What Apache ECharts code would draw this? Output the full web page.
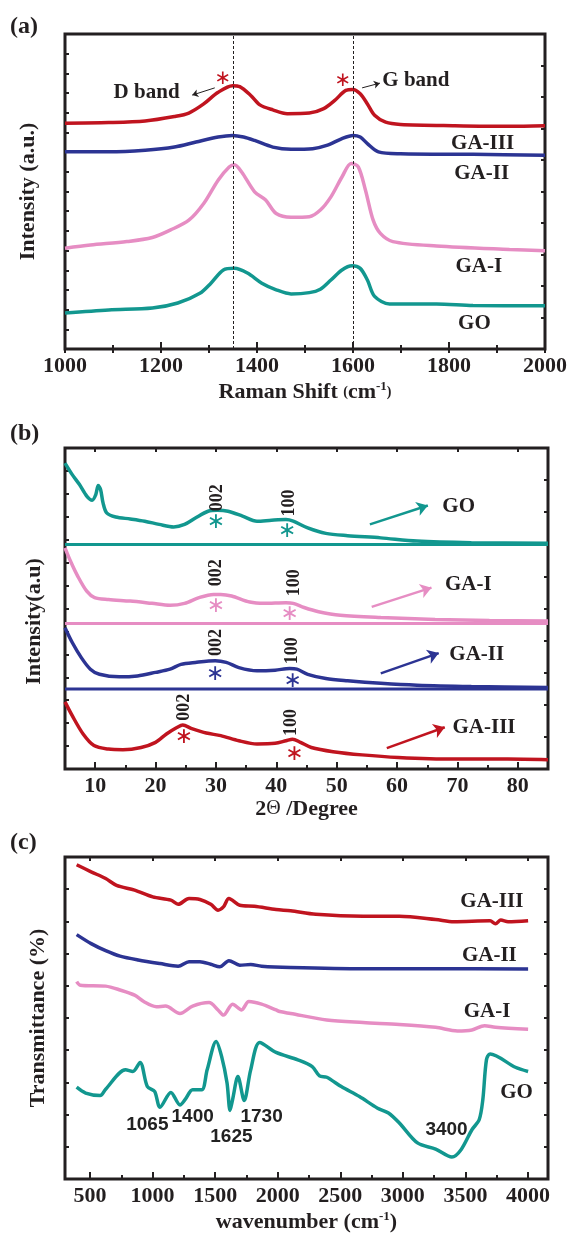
<!DOCTYPE html>
<html>
<head>
<meta charset="utf-8">
<script src="https://cdn.jsdelivr.net/npm/echarts@6/dist/echarts.min.js"></script>
<style>
  html, body { margin: 0; background: #fff; }
  #chart { width: 570px; height: 1236px; }
</style>
</head>
<body>
<div id="chart"></div>
<script>
'use strict';

// (a) Raman spectra, intensity in arbitrary units (0-100 across the frame)
const ramanGA3 = [[1000,71.7],[1091,71.9],[1167,72.4],[1228,73.8],[1258,74.9],[1289,77.8],[1319,81.5],[1349,83.6],[1364,83.3],[1387,80.5],[1406,77.5],[1433,75.9],[1463,74.7],[1509,74.9],[1539,76.3],[1562,78.9],[1585,82.1],[1600,82.4],[1615,81.0],[1630,77.8],[1645,74.2],[1668,72.0],[1699,71.3],[1812,70.9],[1926,70.7],[2000,70.9]];
const ramanGA2 = [[1000,62.6],[1091,62.6],[1167,63.1],[1228,64.1],[1273,65.7],[1319,67.3],[1349,67.8],[1372,67.3],[1395,66.2],[1433,64.1],[1471,63.4],[1516,63.6],[1547,64.7],[1577,66.8],[1600,67.8],[1615,67.3],[1630,65.2],[1653,62.6],[1699,62.0],[1850,61.8],[2000,61.5]];
const ramanGA1 = [[1000,32.0],[1053,33.0],[1129,34.1],[1182,35.4],[1220,37.8],[1258,40.9],[1289,46.2],[1319,53.6],[1342,57.8],[1353,58.5],[1368,56.2],[1395,49.9],[1418,47.3],[1440,43.0],[1471,41.8],[1509,42.0],[1532,44.1],[1554,48.3],[1577,54.6],[1596,58.9],[1611,57.8],[1626,50.4],[1642,40.9],[1657,36.7],[1683,34.1],[1774,32.7],[1926,31.6],[2000,31.2]];
const ramanGO = [[1000,11.4],[1091,12.4],[1182,13.0],[1235,14.6],[1281,17.7],[1304,20.9],[1330,25.1],[1353,25.6],[1380,24.1],[1410,20.9],[1440,18.8],[1471,17.5],[1509,17.9],[1532,19.0],[1554,21.9],[1577,25.1],[1598,26.4],[1615,25.6],[1630,21.9],[1645,16.7],[1676,14.3],[1774,14.3],[1850,13.8],[2000,13.7]];
const ramanBands = [1350, 1600];
const ramanNames = ['GA-III', 'GA-II', 'GA-I', 'GO'];
const ramanNameAt = [[1870,65.2],[1868,55.6],[1862,26.1],[1853,8.2]];
const ramanBandNames = [['D band',1170,81.4],['G band',1731,85.2]];
const ramanStars = [[1329,85.7],[1579,85.1]];
const ramanArrows = [[[1312,82.9],[1265,80.6]], [[1619,82.9],[1656,84.4]]];

// (b) XRD patterns
const xrdGO = [[5,95.3],[6.2,91.7],[7.4,88.6],[8.6,85.0],[9.5,83.7],[10.1,85.5],[10.5,88.3],[10.9,87.0],[11.3,82.9],[11.9,79.8],[13.4,78.5],[15.8,77.9],[18.2,77.2],[20.6,76.2],[23.0,75.4],[24.8,76.2],[26.6,78.2],[28.7,80.3],[30.2,80.6],[32.0,80.3],[34.4,78.8],[36.8,77.2],[39.2,77.5],[41.6,77.7],[42.8,77.2],[45.2,75.1],[48.2,73.4],[51.8,72.7],[57.3,72.0],[63.3,71.0],[72.3,70.5],[85,70.3]];
const xrdGA1 = [[5,68.9],[5.9,64.8],[7.1,60.1],[8.6,55.4],[9.9,53.4],[12.2,52.8],[15.8,52.3],[19.4,51.6],[22.4,51.0],[24.8,51.6],[27.2,53.4],[29.6,54.4],[30.8,54.4],[32.6,53.9],[35.6,52.0],[38.0,51.6],[41.6,51.8],[42.8,51.6],[44.6,50.3],[47.0,49.0],[50.6,47.9],[57.3,47.2],[66.3,46.6],[75.3,46.3],[85,46.1]];
const xrdGA2 = [[5,44.0],[6.2,39.4],[7.7,34.7],[9.2,31.1],[10.7,29.5],[14.0,28.7],[17.0,29.0],[20.0,30.1],[22.4,31.1],[24.2,32.6],[26.6,33.2],[29.9,33.7],[31.7,33.2],[33.8,31.6],[36.8,30.6],[39.8,30.8],[42.2,31.3],[43.4,31.1],[45.2,29.5],[48.2,28.2],[51.8,27.5],[57.3,26.7],[63.3,26.1],[72.3,25.7],[85,25.4]];
const xrdGA3 = [[5,20.9],[6.2,16.6],[8.0,10.9],[9.8,7.3],[12.2,6.2],[14.6,6.0],[17.6,6.7],[20.0,8.3],[21.8,10.9],[23.6,13.0],[24.5,13.7],[26.0,12.6],[28.4,11.2],[30.8,10.4],[33.8,8.8],[36.8,7.8],[39.8,8.0],[41.6,8.8],[42.7,9.3],[44.0,8.3],[45.8,6.7],[49.4,5.4],[54.2,4.4],[60.2,3.6],[69.3,3.1],[78.3,3.1],[85,2.9]];
const xrdBase = [69.9, 45.3, 24.9];
const xrdNames = ['GO', 'GA-I', 'GA-II', 'GA-III'];
const xrdNameAt = [[70.2,81.7],[71.8,57.5],[73.2,35.5],[74.4,13.0]];
const xrdD002 = [[30.2,84.5],[30.1,61.1],[30.1,39.4],[24.8,19.2]];
const xrdD100 = [[42.2,82.9],[43.0,58.0],[42.7,36.8],[42.5,14.5]];
const xrdStar002 = [[30.0,76.9],[30.0,50.6],[29.9,29.5],[24.7,9.8]];
const xrdStar100 = [[41.8,74.1],[42.2,48.2],[42.7,27.3],[43.0,4.7]];
const xrdArrows = [[[55.5,76.2],[65.1,82.1]], [[55.8,50.5],[65.7,56.5]], [[57.3,29.8],[66.9,36.1]], [[58.3,6.5],[67.9,13.0]]];
const xrdTicks = [10,20,30,40,50,60,70,80];
const xrdMinor = [15,25,35,45,55,65,75];

// (c) FTIR spectra
const irGA3 = [[393,97.6],[509,95.4],[625,93.3],[712,91.2],[856,89.7],[1001,87.6],[1146,86.6],[1204,85.3],[1291,87.1],[1378,86.8],[1465,85.3],[1523,83.5],[1566,84.5],[1610,87.1],[1697,85.0],[1813,84.7],[1987,83.7],[2103,83.3],[2305,82.2],[2682,81.6],[2972,81.6],[3262,80.6],[3407,79.9],[3697,80.2],[3740,79.3],[3783,80.4],[3841,79.9],[4001,80.2]];
const irGA2 = [[393,75.9],[509,73.1],[625,70.9],[740,69.2],[885,68.0],[1059,66.9],[1204,66.1],[1291,67.5],[1378,67.5],[1465,66.7],[1537,65.9],[1610,67.8],[1697,66.4],[1784,66.6],[1871,66.1],[2103,65.7],[2682,65.3],[3262,65.3],[4001,65.2]];
const irGA1 = [[393,61.3],[422,60.2],[625,59.9],[740,58.7],[856,57.1],[929,55.1],[1030,53.5],[1103,53.7],[1219,51.4],[1320,53.7],[1451,54.8],[1523,52.5],[1566,50.9],[1639,54.3],[1711,52.5],[1769,55.1],[1871,54.3],[1987,52.5],[2016,52.0],[2103,51.4],[2392,49.4],[2682,48.6],[2972,48.0],[3262,47.1],[3436,46.0],[3552,46.3],[3653,47.6],[3740,47.1],[4001,46.5]];
const irGO = [[393,28.5],[465,26.7],[581,25.9],[625,27.9],[784,33.9],[842,33.4],[900,36.2],[958,28.7],[1016,27.2],[1059,22.3],[1146,26.9],[1219,23.0],[1262,24.8],[1320,27.7],[1393,27.7],[1436,33.9],[1508,42.7],[1552,38.0],[1595,29.8],[1619,21.3],[1639,24.6],[1682,31.8],[1732,24.4],[1784,33.9],[1856,42.4],[1987,39.3],[2161,37.0],[2276,34.9],[2334,32.0],[2392,31.6],[2508,28.7],[2653,25.6],[2798,22.0],[2885,20.5],[2972,17.4],[3117,11.2],[3262,9.3],[3392,6.8],[3465,9.1],[3552,15.3],[3610,18.4],[3639,24.6],[3668,37.0],[3697,38.8],[3899,34.7],[4001,33.4]];
const irNames = ['GA-III', 'GA-II', 'GA-I', 'GO'];
const irNameAt = [[3711,86.1],[3691,69.5],[3673,52.0],[3908,26.7]];
const irBands = [['1065',958,16.8],['1400',1320,19.4],['1625',1630,13.0],['1730',1871,19.4],['3400',3349,15.3]];
const irTicks = [500,1000,1500,2000,2500,3000,3500,4000];
const irMinor = [750,1250,1750,2250,2750,3250,3750];

const red = '#c0141f', blue = '#2c3493', pink = '#e68dc3', teal = '#12978f';
const ink = '#231f20';
const serif = '"Liberation Serif", "Times New Roman", serif';
const sans = '"Liberation Sans", Arial, sans-serif';

function frameAxis(grid, position, min, max, tickLen, more) {
  more = more || {};
  const ax = {
    type: 'value', gridIndex: grid, position: position, min: min, max: max,
    axisLine: {show: false},
    splitLine: {show: false},
    axisLabel: {show: false},
    axisTick: {show: true, inside: true, length: tickLen, lineStyle: {color: ink, width: 2}}
  };
  if (more.interval) ax.interval = more.interval;
  if (more.ticks) ax.axisTick.customValues = more.ticks;
  if (more.labels) {
    ax.axisLabel = {show: true, color: ink, fontFamily: serif, fontWeight: 'bold', fontSize: 22, margin: 6,
      formatter: v => String(v)};
    if (Array.isArray(more.labels)) ax.axisLabel.customValues = more.labels;
  }
  if (more.minor) ax.minorTick = {show: true, splitNumber: more.minor, length: 4, lineStyle: {color: ink, width: 2}};
  if (more.name) {
    ax.name = more.name;
    ax.nameLocation = 'middle';
    ax.nameGap = more.gap;
    ax.nameTextStyle = {
      color: ink, fontFamily: serif, fontWeight: 'bold', fontSize: 22,
      padding: more.pad || 0,
      rich: {
        b: {color: ink, fontFamily: serif, fontWeight: 'bold', fontSize: 22},
        s: {color: ink, fontFamily: serif, fontWeight: 'bold', fontSize: 14},
        t: {color: ink, fontFamily: serif, fontWeight: 'normal', fontSize: 20},
        sup: {color: ink, fontFamily: serif, fontWeight: 'bold', fontSize: 13, padding: [0, 0, 12, 0]}
      }
    };
  }
  return ax;
}

function curve(data, color, width, xi, yi) {
  return {
    type: 'line', data: data, xAxisIndex: xi, yAxisIndex: yi,
    symbol: 'none', smooth: 0.3, silent: true, z: 3,
    lineStyle: {color: color, width: width}, itemStyle: {color: color}
  };
}

function tag(text, at, style) {
  return {
    value: at,
    label: Object.assign({show: true, position: 'inside', formatter: text, color: ink, opacity: 1,
      textBorderWidth: 0, textBorderColor: 'transparent',
      fontFamily: serif, fontWeight: 'bold', fontSize: 21}, style || {})
  };
}

function tagSeries(xi, yi, items, arrows) {
  const s = {
    type: 'scatter', xAxisIndex: xi, yAxisIndex: yi, symbolSize: 1, silent: true, z: 5,
    itemStyle: {color: 'rgba(255,255,255,0)', opacity: 1},
    data: items
  };
  if (arrows) s.markLine = arrows;
  return s;
}

// annotations
const ramanTagItems = [];
ramanNames.forEach((n, i) => ramanTagItems.push(tag(n, ramanNameAt[i])));
ramanBandNames.forEach(b => ramanTagItems.push(tag(b[0], [b[1], b[2]])));
ramanStars.forEach(p => ramanTagItems.push(tag('∗', p, {color: red, fontFamily: '"DejaVu Sans"', fontWeight: 'normal', fontSize: 20})));

const xrdColors = [teal, pink, blue, red];
const xrdTagItems = [];
xrdNames.forEach((n, i) => {
  xrdTagItems.push(tag(n, xrdNameAt[i]));
  xrdTagItems.push(tag('002', xrdD002[i], {rotate: 90, fontSize: 18}));
  xrdTagItems.push(tag('100', xrdD100[i], {rotate: 90, fontSize: 18}));
  xrdTagItems.push(tag('∗', xrdStar002[i], {color: xrdColors[i], fontFamily: '"DejaVu Sans"', fontWeight: 'normal', fontSize: 22}));
  xrdTagItems.push(tag('∗', xrdStar100[i], {color: xrdColors[i], fontFamily: '"DejaVu Sans"', fontWeight: 'normal', fontSize: 22}));
});

const irTagItems = [];
irNames.forEach((n, i) => irTagItems.push(tag(n, irNameAt[i])));
irBands.forEach(b => irTagItems.push(tag(b[0], [b[1], b[2]], {fontFamily: sans, fontSize: 19, color: '#222'})));

const option = {
  animation: false,
  backgroundColor: '#fff',
  graphic: [
    {type: 'text', left: 10, top: 15, style: {text: '(a)', font: 'bold 24px "Liberation Serif"', fill: ink}},
    {type: 'text', left: 10, top: 422, style: {text: '(b)', font: 'bold 24px "Liberation Serif"', fill: ink}},
    {type: 'text', left: 10, top: 831, style: {text: '(c)', font: 'bold 24px "Liberation Serif"', fill: ink}}
  ],
  grid: [
    {left: 65, top: 34, width: 480, height: 315, show: true, borderColor: ink, borderWidth: 3, backgroundColor: 'transparent'},
    {left: 65, top: 448, width: 483, height: 321, show: true, borderColor: ink, borderWidth: 3, backgroundColor: 'transparent'},
    {left: 65, top: 857, width: 483, height: 322, show: true, borderColor: ink, borderWidth: 3, backgroundColor: 'transparent'}
  ],
  xAxis: [
    frameAxis(0, 'bottom', 1000, 2000, 7, {interval: 200, labels: true, minor: 2, gap: 31,
      name: '{b|Raman Shift }{s|(}{b|cm}{sup|-1}{s|)}'}),
    frameAxis(0, 'top', 1000, 2000, 4, {interval: 100}),
    frameAxis(1, 'bottom', 5, 85, 7, {ticks: xrdTicks, labels: xrdTicks, gap: 27,
      name: '{b|2}{t|Θ}{b| /Degree}'}),
    frameAxis(1, 'bottom', 5, 85, 4, {ticks: xrdMinor}),
    frameAxis(1, 'top', 5, 85, 4, {ticks: xrdTicks}),
    frameAxis(2, 'bottom', 300, 4160, 7, {ticks: irTicks, labels: irTicks, gap: 31,
      name: '{b|wavenumber (cm}{sup|-1}{b|)}'}),
    frameAxis(2, 'bottom', 300, 4160, 4, {ticks: irMinor}),
    frameAxis(2, 'top', 300, 4160, 4, {ticks: irTicks})
  ],
  yAxis: [
    frameAxis(0, 'left', 0, 100, 4, {interval: 6.25, name: 'Intensity (a.u.)', gap: 26}),
    frameAxis(0, 'right', 0, 100, 4, {interval: 10}),
    frameAxis(1, 'left', 0, 100, 4, {interval: 100 / 14, name: 'Intensity(a.u)', gap: 20, pad: [0, 26, 0, 0]}),
    frameAxis(1, 'right', 0, 100, 4, {interval: 10}),
    frameAxis(2, 'left', 0, 100, 4, {interval: 10, name: 'Transmittance (%)', gap: 16}),
    frameAxis(2, 'right', 0, 100, 4, {interval: 10})
  ],
  series: [
    Object.assign(curve(ramanGA3, red, 3.5, 0, 0), {
      markLine: {
        symbol: 'none', silent: true, label: {show: false},
        lineStyle: {color: ink, type: [3, 2], width: 1},
        data: ramanBands.map(v => ({xAxis: v}))
      }
    }),
    curve(ramanGA2, blue, 3.5, 0, 0),
    curve(ramanGA1, pink, 3.5, 0, 0),
    curve(ramanGO, teal, 3.5, 0, 0),
    tagSeries(0, 0, ramanTagItems, {
      symbol: ['none', 'arrow'], symbolSize: 6, silent: true, label: {show: false},
      lineStyle: {color: ink, type: 'solid', width: 1, opacity: 1},
      data: ramanArrows.map(a => [{coord: a[0]}, {coord: a[1]}])
    }),

    curve(xrdGO, teal, 3.5, 2, 2),
    curve(xrdGA1, pink, 3.5, 2, 2),
    curve(xrdGA2, blue, 3.5, 2, 2),
    curve(xrdGA3, red, 3.5, 2, 2),
    ...xrdBase.map((v, i) => Object.assign(curve([[5, v], [85, v]], xrdColors[i], 3, 2, 2), {smooth: false})),
    tagSeries(2, 2, xrdTagItems, {
      symbol: ['none', 'arrow'], symbolSize: 11, silent: true, label: {show: false},
      lineStyle: {type: 'solid', width: 2.5, opacity: 1},
      data: xrdArrows.map((a, i) => [{coord: a[0], lineStyle: {color: xrdColors[i]}, itemStyle: {color: xrdColors[i]}}, {coord: a[1]}])
    }),

    curve(irGA3, red, 3.5, 5, 4),
    curve(irGA2, blue, 3.5, 5, 4),
    curve(irGA1, pink, 3.5, 5, 4),
    curve(irGO, teal, 3.5, 5, 4),
    tagSeries(5, 4, irTagItems)
  ]
};

const chart = echarts.init(document.getElementById('chart'), null, {renderer: 'canvas'});
chart.setOption(option);
</script>
</body>
</html>
